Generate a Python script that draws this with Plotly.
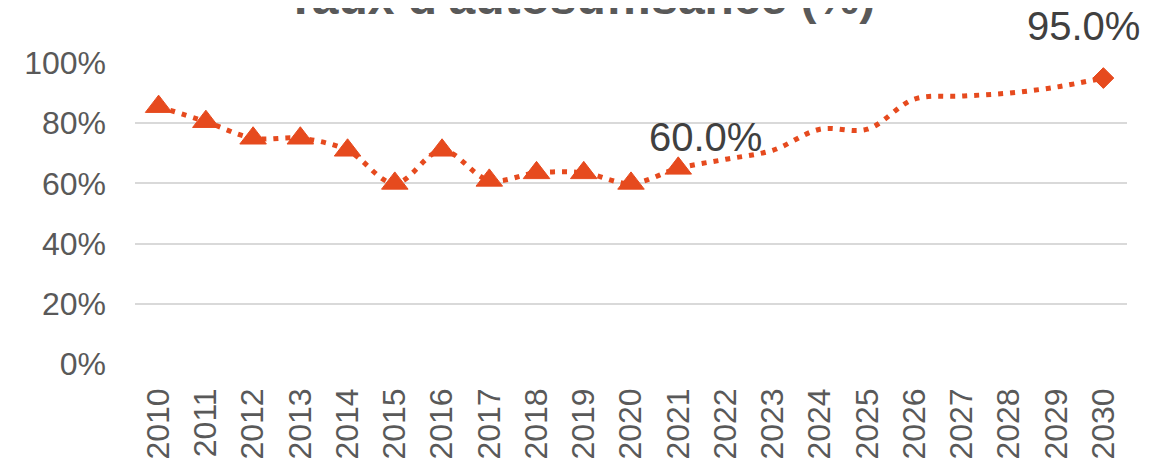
import plotly.graph_objects as go

# ---- data ----
years = [str(y) for y in range(2010, 2031)]
self_sufficiency = [85.5, 80.5, 75, 75, 71, 60, 71, 61, 63.5, 63.5, 60, 65,
                    68, 71, 78, 78, 88, 89, 90, 92, 95]
marker_symbols = ["triangle-up"] * 12 + [None] * 8 + ["diamond"]
y_tick_values = [0, 20, 40, 60, 80, 100]
y_tick_labels = ["0%", "20%", "40%", "60%", "80%", "100%"]
label_years = ["2020", "2030"]
title_text = "<b>Taux d'autosuffisance (%)</b>"

# ---- styles ----
LINE_COLOR = "#E64A1E"
AXIS_TEXT = "#595959"
LABEL_TEXT = "#404040"
GRID = "#D9D9D9"
FONT = "Liberation Sans, Arial, sans-serif"
LABEL_OFFSETS = {"2020": (74, 46), "2030": (-20, 52)}

fig = go.Figure()

# dotted smoothed line
fig.add_trace(go.Scatter(
    x=years, y=self_sufficiency, mode="lines",
    line=dict(color=LINE_COLOR, width=5, dash="5px,7px", shape="spline"),
    hoverinfo="skip", showlegend=False,
))

# markers
mx = [x for x, s in zip(years, marker_symbols) if s]
my = [v for v, s in zip(self_sufficiency, marker_symbols) if s]
ms = [s for s in marker_symbols if s]
sizes = [23 if s == "triangle-up" else 16 for s in ms]
fig.add_trace(go.Scatter(
    x=mx, y=my, mode="markers",
    marker=dict(symbol=ms, size=sizes, color=LINE_COLOR, opacity=1,
                line=dict(color=LINE_COLOR, width=1)),
    showlegend=False, cliponaxis=False,
))

for yr in label_years:
    idx = years.index(yr)
    v = self_sufficiency[idx]
    dx, dy = LABEL_OFFSETS[yr]
    fig.add_annotation(
        x=idx, y=v, text=f"{v:.1f}%", showarrow=False,
        xshift=dx, yshift=dy,
        font=dict(family=FONT, size=40, color=LABEL_TEXT),
    )

# title (partly above the visible page, as in the reference)
fig.add_annotation(
    text=title_text, xref="paper", yref="paper", x=0.4486, y=1.216,
    xanchor="center", yanchor="middle", showarrow=False,
    font=dict(family=FONT, size=48, color=AXIS_TEXT),
)

fig.update_layout(
    width=1165, height=458,
    margin=dict(l=127, r=46, t=55, b=102, autoexpand=False),
    paper_bgcolor="white", plot_bgcolor="white",
    font=dict(family=FONT, color=AXIS_TEXT),
)

fig.update_xaxes(
    type="category", categoryorder="array", categoryarray=years,
    range=[-0.5, len(years) - 0.5], tickmode="array", tickvals=years,
    ticktext=years, tickangle=-90, showgrid=False, showline=False,
    zeroline=False, ticks="", tickfont=dict(size=32, color=AXIS_TEXT),
    automargin=False, ticklabelstandoff=17,
)
fig.update_yaxes(
    range=[0, 100], tickmode="array", tickvals=y_tick_values,
    ticktext=y_tick_labels, automargin=False,
    showgrid=True, gridcolor=GRID, gridwidth=2, zeroline=False,
    showline=False, ticks="", tickfont=dict(size=32, color=AXIS_TEXT),
    ticklabelstandoff=28,
)

fig.write_html("out.html")
